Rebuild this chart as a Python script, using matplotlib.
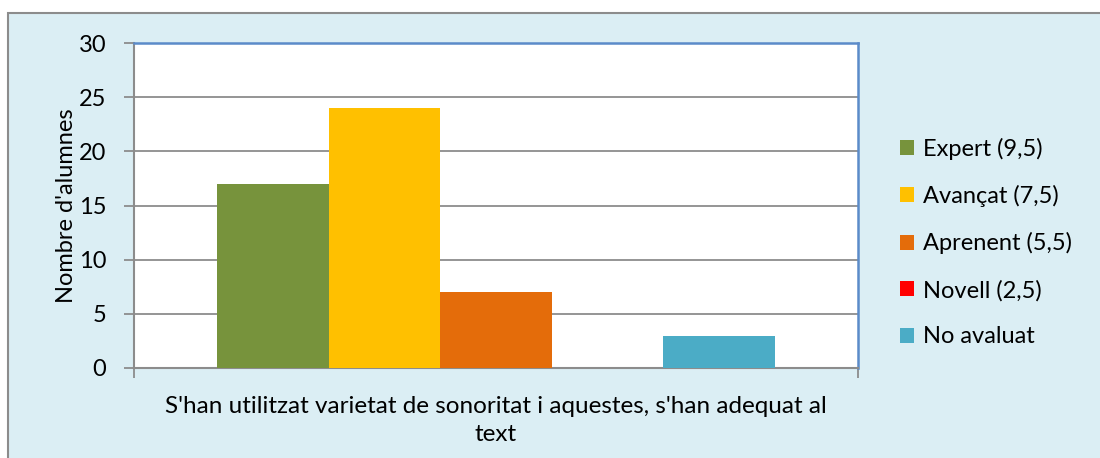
import matplotlib.pyplot as plt
from matplotlib.patches import Rectangle

# data
category = "S'han utilitzat varietat de sonoritat i aquestes, s'han adequat al\ntext"
levels = ["Expert (9,5)", "Avançat (7,5)", "Aprenent (5,5)", "Novell (2,5)", "No avaluat"]
counts = [17, 24, 7, 0, 3]
colors = ["#77933C", "#FFC000", "#E46C0A", "#FF0000", "#4BACC6"]

plt.rcParams['font.family'] = ['Lato', 'DejaVu Sans']
FS = 17

fig = plt.figure(figsize=(11, 4.58), dpi=100)
fig.patch.set_facecolor("white")

# chart area box (extends past the right and bottom edge)
fig.patches.append(Rectangle((8 / 1100, -0.1), 1.2, (458 - 13.5) / 458 + 0.1,
                             transform=fig.transFigure, facecolor="#DBEEF4",
                             edgecolor="#8C8C8C", linewidth=1.5, zorder=-10))

ax = fig.add_axes([134 / 1100, 90 / 458, (858 - 134) / 1100, (368 - 43) / 458])
ax.set_facecolor("white")

w = 111.5 / 724
n = len(levels)
for i, (lab, v, c) in enumerate(zip(levels, counts, colors)):
    ax.bar((i - (n - 1) / 2) * w, v, width=w, color=c, label=lab, zorder=3)

ax.set_xlim(-0.5, 0.5)
ax.set_ylim(0, 30)
ax.set_yticks(range(0, 31, 5))
ax.yaxis.grid(True, color="#8C8C8C", linewidth=1.3, zorder=1)
ax.set_axisbelow(True)

ax.set_xticks([-0.5, 0.5])
ax.set_xticklabels(["", ""])
ax.text(0.5, -0.085, category, transform=ax.transAxes, ha="center", va="top",
        fontsize=17.5, linespacing=1.45)

ax.tick_params(axis="y", length=7, width=1.3, color="#8C8C8C", labelsize=FS, pad=13)
ax.tick_params(axis="x", length=7, width=1.3, color="#8C8C8C")
for s in ["left", "bottom"]:
    ax.spines[s].set_color("#8C8C8C")
    ax.spines[s].set_linewidth(1.5)
for s in ["top", "right"]:
    ax.spines[s].set_color("#5B8BC9")
    ax.spines[s].set_linewidth(1.8)

ax.set_ylabel("Nombre d'alumnes", fontsize=FS, labelpad=1)

ax.legend(loc="center left", bbox_to_anchor=(1.028, 0.386), frameon=False,
          fontsize=FS, handlelength=0.6, handleheight=0.6, handletextpad=0.4,
          labelspacing=1.07)

fig.savefig("out.png", dpi=100)
